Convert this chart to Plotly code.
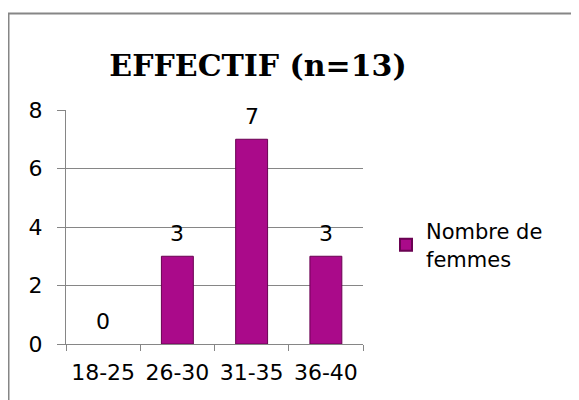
import plotly.graph_objects as go

categories = ["18-25", "26-30", "31-35", "36-40"]
values = [0, 3, 7, 3]
series_name = "Nombre de<br>femmes"
title_text = "EFFECTIF (n=13)"
y_ticks = [0, 2, 4, 6, 8]

# the page body adds an 8px margin, so figure coordinates are screen - 8
OFF = 8
W, H = 579 - OFF, 400 - OFF
L, R, T, B = 66 - OFF, 363 - OFF, 110 - OFF, 344 - OFF

def px(x):
    return (x - OFF - L) / (R - L)

def py(y):
    return (B - (y - OFF)) / (B - T)

fig = go.Figure()
fig.add_trace(go.Bar(
    x=categories, y=values, name=series_name,
    marker=dict(color="#AA0A8A",
                line=dict(color="#6A0252", width=[0 if v == 0 else 1 for v in values])),
    width=0.43, showlegend=True,
))

for c, v in zip(categories, values):
    fig.add_annotation(x=c, y=v, text=str(v), showarrow=False, yshift=23,
                       font=dict(family="DejaVu Sans", size=22, color="black"))

fig.add_shape(type="line", xref="paper", yref="paper", x0=px(8), x1=px(590), y0=py(13.5), y1=py(13.5),
              line=dict(color="#868686", width=2))
fig.add_shape(type="line", xref="paper", yref="paper", x0=px(8.5), x1=px(8.5), y0=py(13.5), y1=py(420),
              line=dict(color="#868686", width=2))

fig.update_layout(
    width=W, height=H,
    margin=dict(l=L, r=W - R, t=T, b=H - B),
    paper_bgcolor="white", plot_bgcolor="white",
    title=dict(text="<b>" + title_text + "</b>", x=(258 - OFF) / W, y=1 - (65 - OFF) / H,
               xref="container", yref="container", xanchor="center", yanchor="middle",
               font=dict(family="DejaVu Serif", size=30, color="black")),
    font=dict(family="DejaVu Sans", size=22, color="black"),
    legend=dict(x=px(386), y=py(245), xanchor="left", yanchor="middle", font=dict(size=21),
                bgcolor="rgba(0,0,0,0)", itemsizing="constant"),
    bargap=0.57,
)
fig.update_xaxes(type="category", showline=True, linecolor="#868686", linewidth=1,
                 ticks="outside", tickson="boundaries", ticklen=6, tickcolor="#868686",
                 showgrid=False, tickfont=dict(size=22), ticklabelstandoff=9)
fig.update_yaxes(range=[0, 8], tickvals=y_ticks, showline=True, linecolor="#868686", linewidth=1,
                 ticks="outside", ticklen=8, tickcolor="#868686",
                 showgrid=True, gridcolor="#868686", gridwidth=1, zeroline=False,
                 tickfont=dict(size=22), ticklabelstandoff=10)

fig.write_html("out.html")
